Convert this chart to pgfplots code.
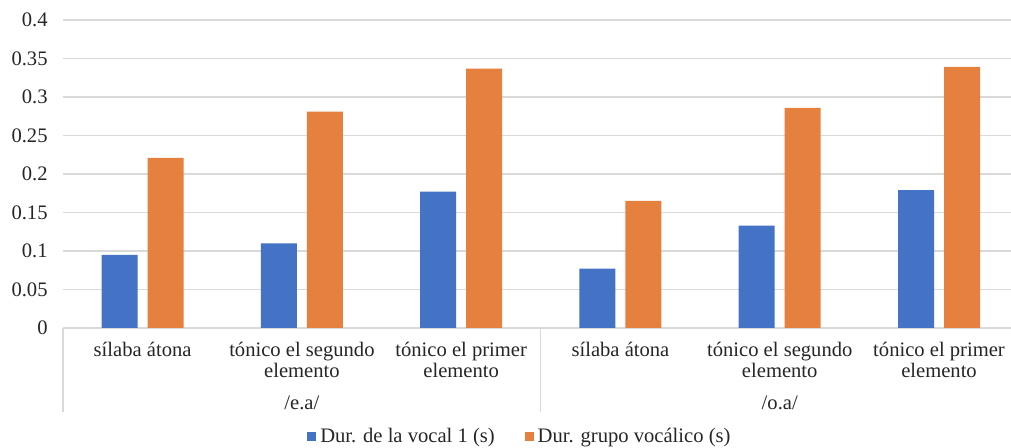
\documentclass[border=0pt]{standalone}
\usepackage{fontspec}
\setmainfont{Liberation Serif}
\usepackage{pgfplots}
\pgfplotsset{compat=1.18}
\definecolor{xblue}{HTML}{4472C4}
\definecolor{xorange}{HTML}{E5803F}
\definecolor{gridgray}{HTML}{D9D9D9}
\newcommand{\chartfont}{\fontsize{10.3}{10.3}\selectfont}
\begin{document}
\begin{tikzpicture}
\useasboundingbox (-31.5pt,-60pt) rectangle (474pt,164pt);
\begin{axis}[
    scale only axis,
    width=474pt, height=154pt,
    ybar=5pt, bar width=18pt,
    xmin=-0.5, xmax=5.452,
    ymin=0, ymax=0.4,
    clip=false,
    xtick={0,1,2,3,4,5},
    xticklabels={s\'ilaba \'atona, t\'onico el segundo\\elemento, t\'onico el primer\\elemento,
                 s\'ilaba \'atona, t\'onico el segundo\\elemento, t\'onico el primer\\elemento},
    ytick={0,0.05,0.1,0.15,0.2,0.25,0.3,0.35,0.4},
    yticklabel style={/pgf/number format/fixed, /pgf/number format/precision=2,
                      /pgf/number format/assume math mode=true,
                      anchor=east, inner sep=0pt, xshift=-7.5pt},
    xticklabel style={align=center, anchor=north, inner sep=0pt, yshift=-7pt},
    tick label style={font=\chartfont, text=black!85},
    major tick length=0pt,
    axis line style={draw=none},
    ymajorgrids, grid style={gridgray, line width=0.6pt},
    legend columns=2,
    legend style={draw=none, fill=none, font=\chartfont, text=black!85,
                  at={(0.483,-0.354)}, anchor=center,
                  /tikz/every even column/.append style={column sep=13pt}},
    legend image code/.code={\fill[#1] (0pt,-2.2pt) rectangle (4.5pt,2.3pt);},
]
\addplot[fill=xblue, draw=none] coordinates {
(0,0.095) (1,0.110) (2,0.177) (3,0.077) (4,0.133) (5,0.179)
};
\addlegendentry{Dur. de la vocal 1 (s)}
\addplot[fill=xorange, draw=none] coordinates {
(0,0.221) (1,0.281) (2,0.337) (3,0.165) (4,0.286) (5,0.339)
};
\addlegendentry{Dur. grupo vocálico (s)}

\draw[gridgray, line width=0.6pt] (axis cs:-0.5,0) -- ++(0pt,-42pt);
\draw[gridgray, line width=0.6pt] (axis cs:2.5,0) -- ++(0pt,-42pt);
\node[font=\chartfont, text=black!85] at (axis cs:1,0) [yshift=-37.5pt] {/e.a/};
\node[font=\chartfont, text=black!85] at (axis cs:4,0) [yshift=-37.5pt] {/o.a/};
\end{axis}
\end{tikzpicture}
\end{document}
